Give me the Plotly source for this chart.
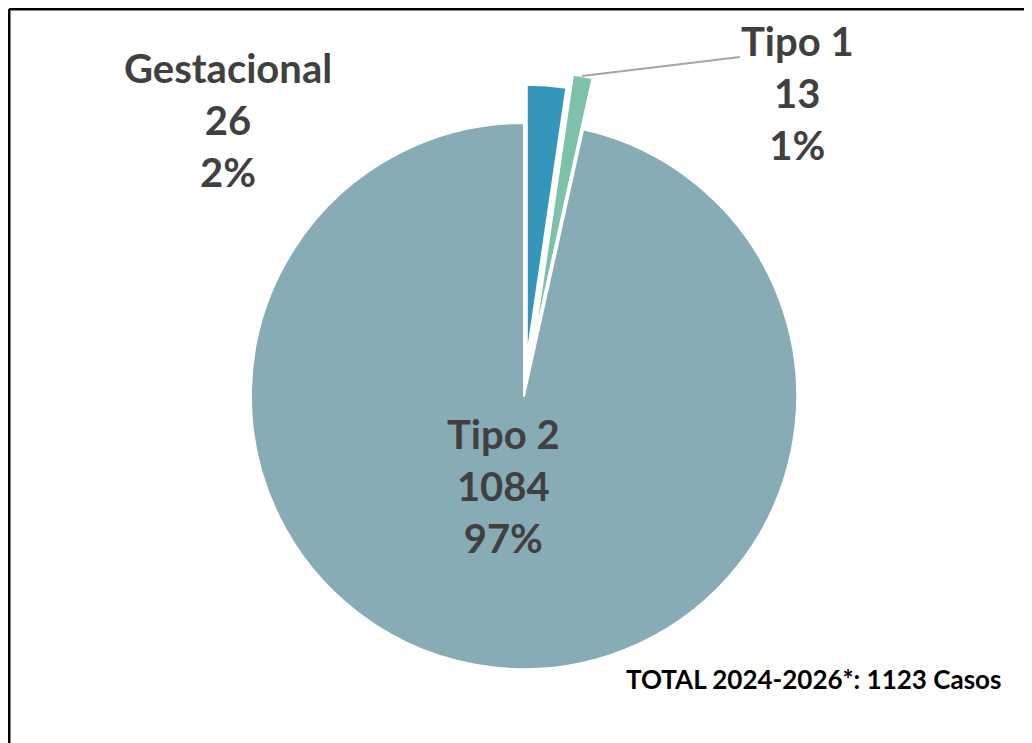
import plotly.graph_objects as go

labels = ["Gestacional", "Tipo 1", "Tipo 2"]
values = [26, 13, 1084]
percents = ["2%", "1%", "97%"]
colors = ["#3596BC", "#7DC1AA", "#87ACB6"]
pulls = [0.14, 0.19, 0.0]
total_text = "TOTAL 2024-2026*: 1123 Casos"

W, H = 1024, 735  # page has an 8px body margin

def px(x):
    return x / W

def py(y):
    return 1 - y / H

cx, cy, half = 516, 388, 325
fig = go.Figure(go.Pie(
    labels=labels,
    values=values,
    marker=dict(colors=colors, line=dict(color="white", width=2)),
    pull=pulls,
    sort=False,
    direction="clockwise",
    rotation=0,
    textinfo="none",
    hoverinfo="label+value+percent",
    showlegend=False,
    domain=dict(x=[px(cx - half), px(cx + half)], y=[py(cy + half), py(cy - half)]),
))

label_pos = {"Gestacional": (220, 112), "Tipo 1": (789, 85), "Tipo 2": (495, 478)}
annotations = []
for lab, val, pct in zip(labels, values, percents):
    lx, ly = label_pos[lab]
    annotations.append(dict(
        x=px(lx), y=py(ly), xref="paper", yref="paper",
        text=f"<b>{lab}</b><br><b>{val}</b><br><b>{pct}</b>",
        showarrow=False, xanchor="center", yanchor="middle",
        font=dict(family="Lato", size=40, color="#404040"),
        align="center",
    ))
annotations.append(dict(
    x=px(805), y=py(671), xref="paper", yref="paper",
    text=f"<b>{total_text}</b>", showarrow=False,
    xanchor="center", yanchor="middle",
    font=dict(family="Lato", size=26, color="#000000"),
))

shapes = [
    dict(type="line", xref="paper", yref="paper", x0=px(574), y0=py(68), x1=px(732), y1=py(49),
         line=dict(color="#A6A6A6", width=2)),
    dict(type="line", xref="paper", yref="paper", x0=px(1), y0=py(1), x1=1.05, y1=py(1),
         line=dict(color="#000000", width=3)),
    dict(type="line", xref="paper", yref="paper", x0=px(1), y0=py(1), x1=px(1), y1=-0.05,
         line=dict(color="#000000", width=3)),
]

fig.update_layout(
    width=W, height=H,
    margin=dict(l=0, r=0, t=0, b=0),
    paper_bgcolor="white", plot_bgcolor="white",
    annotations=annotations, shapes=shapes,
)

fig.write_html("out.html")
